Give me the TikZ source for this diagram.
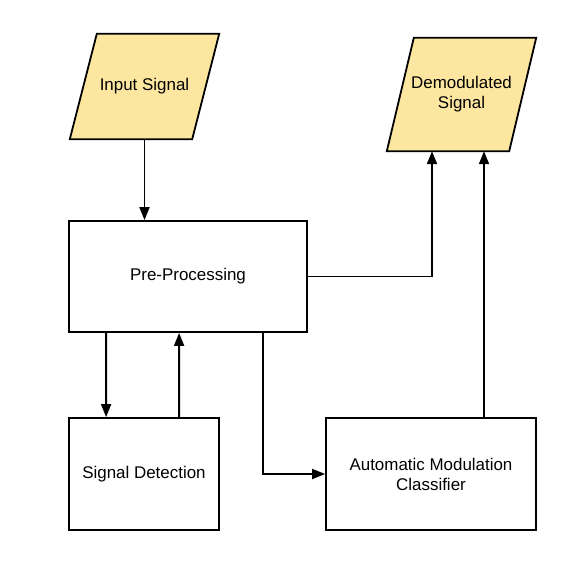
\documentclass[tikz,border=0pt]{standalone}
\usepackage{fontspec}
\setmainfont{Liberation Sans}
\usetikzlibrary{arrows.meta,calc,backgrounds}

\definecolor{ioyellow}{RGB}{253,231,160}

\tikzset{
	block/.style={draw, line width=1.8bp, minimum width=#1, align=center},
	iobox/.style={minimum width=149bp, align=center},
	io/.style={draw, fill=ioyellow, line width=1.8bp, line join=miter},
	arr/.style={line width=1.8bp, -{Triangle[length=13bp,width=10bp]}}
}

\begin{document}
\begin{tikzpicture}[x=1bp, y=-1bp, font=\fontsize{17pt}{20pt}\selectfont]

\useasboundingbox (0,0) rectangle (565,572);

\node [iobox, minimum height=105bp] (input) at (144.5,86.5) {Input Signal};
\node [iobox, minimum height=113bp] (demod) at (461.5,94.5) {Demodulated\\Signal};

\begin{scope}[on background layer]
\draw [io] ($(input.north west)+(27,0)$) -- (input.north east) --
($(input.south east)+(-27,0)$) -- (input.south west) -- cycle;
\draw [io] ($(demod.north west)+(27,0)$) -- (demod.north east) --
($(demod.south east)+(-27,0)$) -- (demod.south west) -- cycle;
\end{scope}

\node [block=238bp, minimum height=111bp] (pre) at (188,276.5) {Pre-Processing};
\node [block=150bp, minimum height=112bp] (detect) at (144,474) {Signal Detection};
\node [block=210bp, minimum height=112bp] (amc) at (431,474) {Automatic Modulation\\Classifier};

\draw [arr] (input.south) -- (input.south |- pre.north);

\draw [arr] (pre.east) -| ($(demod.south)+(-29.5,0)$);
\draw [arr] ($(amc.north)+(53,0)$) -- ($(demod.south)+(22.5,0)$);

\draw [arr] ($(pre.south west)+(38,0)$) -- ($(detect.north west)+(38,0)$);
\draw [arr] ($(detect.north west)+(111,0)$) -- ($(pre.south west)+(111,0)$);

\draw [arr] ($(pre.south west)+(195,0)$) |- (amc.west);

\end{tikzpicture}
\end{document}
